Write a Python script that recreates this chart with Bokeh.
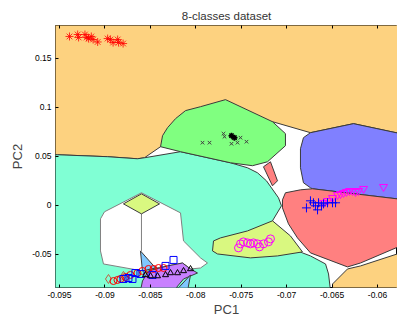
from bokeh.plotting import figure
from bokeh.models import LinearAxis, FixedTicker, NumeralTickFormatter, Range1d
from bokeh.embed import file_html
from bokeh.resources import INLINE

# ---- axis ticks ----
x_ticks = [-0.095, -0.09, -0.085, -0.08, -0.075, -0.07, -0.065, -0.06]
y_ticks = [-0.05, 0, 0.05, 0.1, 0.15]

# ---- decision regions (data coordinates) ----
orange_top_x = [-0.09599, -0.05747, -0.05747, -0.06264, -0.06738, -0.07156, -0.07618, -0.08278, -0.08388, -0.08565, -0.08642, -0.08972, -0.09522, -0.09599]
orange_top_y = [0.1883, 0.1883, 0.0729, 0.0831, 0.0739, 0.0851, 0.0708, 0.0626, 0.0596, 0.0483, 0.0473, 0.0494, 0.0514, 0.0514]

cyan_x = [-0.09599, -0.09522, -0.08972, -0.08642, -0.08565, -0.08168, -0.07618, -0.07431, -0.07321, -0.07222, -0.07090, -0.07057, -0.07156, -0.07288, -0.06826, -0.06738, -0.06572, -0.06539, -0.06517, -0.09599]
cyan_y = [0.0514, 0.0514, 0.0494, 0.0473, 0.0483, 0.0545, 0.0432, 0.0381, 0.0330, 0.0248, 0.0075, -0.0007, -0.0160, -0.0314, -0.0487, -0.0518, -0.0600, -0.0702, -0.0876, -0.0876]

green_x = [-0.08388, -0.08366, -0.08311, -0.08223, -0.08113, -0.07948, -0.07673, -0.07156, -0.07013, -0.07013, -0.07211, -0.07376, -0.07618, -0.08168]
green_y = [0.0596, 0.0708, 0.0790, 0.0882, 0.0964, 0.1004, 0.1076, 0.0851, 0.0729, 0.0606, 0.0442, 0.0402, 0.0432, 0.0545]

blue_x = [-0.06738, -0.06264, -0.05747, -0.05747, -0.06716, -0.06738, -0.06815, -0.06848, -0.06848, -0.06815]
blue_y = [0.0739, 0.0831, 0.0729, 0.0060, 0.0167, 0.0177, 0.0228, 0.0381, 0.0575, 0.0688]

salmon_x = [-0.07046, -0.07013, -0.06848, -0.06716, -0.05747, -0.05747, -0.06187, -0.06330, -0.06738, -0.06881, -0.06980, -0.07046]
salmon_y = [0.0054, 0.0126, 0.0156, 0.0167, 0.0060, -0.0416, -0.0590, -0.0630, -0.0487, -0.0334, -0.0191, -0.0028]

orange_br_x = [-0.06495, -0.06495, -0.06330, -0.06187, -0.05747, -0.05747]
orange_br_y = [-0.0876, -0.0804, -0.0651, -0.0620, -0.0487, -0.0876]

sliver_x = [-0.07255, -0.07178, -0.07101, -0.07156]
sliver_y = [0.0391, 0.0442, 0.0248, 0.0197]

yg_x = [-0.07805, -0.07816, -0.07761, -0.07398, -0.07101, -0.06826, -0.06958, -0.07156, -0.07431, -0.07728]
yg_y = [-0.0365, -0.0467, -0.0498, -0.0538, -0.0518, -0.0477, -0.0314, -0.0160, -0.0263, -0.0334]

white_x = [-0.08598, -0.08168, -0.08135, -0.07948, -0.07871, -0.07948, -0.08058, -0.08146, -0.08311, -0.08443, -0.08587, -0.09016, -0.09049, -0.09049, -0.09005]
white_y = [0.0126, -0.0079, -0.0365, -0.0538, -0.0590, -0.0641, -0.0651, -0.0590, -0.0620, -0.0641, -0.0671, -0.0600, -0.0467, -0.0140, -0.0068]

white_mid_x = [-0.08598, -0.08598]
white_mid_y = [-0.0089, -0.0467]

diamond_x = [-0.08598, -0.08399, -0.08598, -0.08796]
diamond_y = [0.0115, 0.0013, -0.0089, 0.0013]

lblue1_x = [-0.08609, -0.08443, -0.08587]
lblue1_y = [-0.0467, -0.0641, -0.0671]

purple_x = [-0.08609, -0.08587, -0.08521, -0.08311, -0.08146, -0.08058, -0.07981, -0.08135, -0.08245]
purple_y = [-0.0876, -0.0774, -0.0671, -0.0620, -0.0590, -0.0651, -0.0692, -0.0753, -0.0876]

lblue2_x = [-0.08223, -0.08058, -0.08091]
lblue2_y = [-0.0876, -0.0712, -0.0876]

# ---- data points ----
c1_x = [-0.0939, -0.0930, -0.0929, -0.0922, -0.0920, -0.0918, -0.0915, -0.0913, -0.0908, -0.0897, -0.0894, -0.0891, -0.0886, -0.0885, -0.0880]
c1_y = [0.1720, 0.1740, 0.1710, 0.1740, 0.1710, 0.1699, 0.1720, 0.1689, 0.1664, 0.1699, 0.1689, 0.1658, 0.1689, 0.1658, 0.1648]

c2_x = [-0.07926, -0.07849, -0.07695, -0.07684, -0.07607, -0.07585, -0.07563, -0.07541, -0.07607, -0.07508, -0.07442]
c2_y = [0.0637, 0.0637, 0.0729, 0.0698, 0.0708, 0.0688, 0.0678, 0.0637, 0.0626, 0.0688, 0.0647]
c2b_x = [-0.07607, -0.07574]
c2b_y = [0.0708, 0.0688]

c3_x = [-0.06594, -0.06550, -0.06495, -0.06440, -0.06407, -0.06374, -0.06341, -0.06308, -0.06275, -0.06242, -0.06209, -0.06154, -0.05934]
c3_y = [0.0024, 0.0044, 0.0075, 0.0105, 0.0115, 0.0126, 0.0136, 0.0146, 0.0146, 0.0136, 0.0146, 0.0167, 0.0187]

c4_x = [-0.06782, -0.06738, -0.06705, -0.06683, -0.06660, -0.06649, -0.06616, -0.06594, -0.06550, -0.06495, -0.06462]
c4_y = [-0.0028, 0.0044, 0.0024, -0.0007, -0.0048, 0.0024, -0.0007, 0.0013, 0.0024, 0.0024, 0.0024]

c5_x = [-0.07530, -0.07508, -0.07475, -0.07431, -0.07398, -0.07365, -0.07321, -0.07299, -0.07255, -0.07200, -0.07178]
c5_y = [-0.0436, -0.0395, -0.0375, -0.0385, -0.0395, -0.0385, -0.0395, -0.0426, -0.0395, -0.0375, -0.0344]

c6_x = [-0.08906, -0.08862, -0.08829, -0.08774, -0.08719, -0.08642, -0.08587, -0.08520, -0.08465, -0.08410, -0.08355]
c6_y = [-0.0774, -0.0763, -0.0753, -0.0733, -0.0712, -0.0692, -0.0671, -0.0651, -0.0651, -0.0641, -0.0641]

c7_x = [-0.08796, -0.08741, -0.08697, -0.08664, -0.08609, -0.08476, -0.08333, -0.08245]
c7_y = [-0.0753, -0.0743, -0.0753, -0.0692, -0.0702, -0.0712, -0.0620, -0.0559]

c8_x = [-0.08554, -0.08498, -0.08421, -0.08333, -0.08278, -0.08201, -0.08135, -0.08058]
c8_y = [-0.0712, -0.0723, -0.0723, -0.0712, -0.0692, -0.0692, -0.0671, -0.0651]

c9_x = [-0.08961, -0.08796]
c9_y = [-0.0753, -0.0722]

EDGE = "#3a3a3a"

p = figure(width=397, height=320,
           x_range=Range1d(-0.09544, -0.0578), y_range=Range1d(-0.0840, 0.1832),
           output_backend="svg", toolbar_location=None,
           min_border_left=55, min_border_right=0, min_border_top=25, min_border_bottom=33,
           background_fill_color="white", border_fill_color="white",
           title="8-classes dataset")

def region(xs, ys, color, lc=EDGE):
    p.patch(xs, ys, fill_color=color, line_color=lc, line_width=1)

region(orange_top_x, orange_top_y, "#FDD280")
region(orange_br_x, orange_br_y, "#FDD280")
region(cyan_x, cyan_y, "#80FFD4")
region(green_x, green_y, "#80FF80")
region(blue_x, blue_y, "#8080FF")
region(salmon_x, salmon_y, "#FF8080")
region(sliver_x, sliver_y, "#FF8080")
region(yg_x, yg_y, "#D9F880")
region(white_x, white_y, "white", lc="#808080")
p.line(white_mid_x, white_mid_y, line_color="#808080", line_width=1)
region(diamond_x, diamond_y, "#D9F880")
region(lblue1_x, lblue1_y, "#80C8FF")
region(purple_x, purple_y, "#C880FF")
region(lblue2_x, lblue2_y, "#80C8FF")

p.scatter(c1_x, c1_y, marker="asterisk", size=8, line_color="#FF0000", line_width=0.8)
p.scatter(c2_x, c2_y, marker="x", size=5, line_color="#404040", line_width=1)
p.scatter(c2b_x, c2b_y, marker="asterisk", size=6, line_color="black", line_width=1.5)
p.scatter(c3_x, c3_y, marker="inverted_triangle", size=8, line_color="#FF00FF", fill_color=None, line_width=1)
p.scatter(c4_x, c4_y, marker="cross", size=9, line_color="#0000FF", line_width=1)
p.scatter(c5_x, c5_y, marker="circle", size=8, line_color="#FF00FF", fill_color=None, line_width=1)
p.scatter(c9_x, c9_y, marker="diamond", size=9, line_color="#C06040", fill_color=None, line_width=1)
p.scatter(c6_x, c6_y, marker="circle", size=7, line_color="#FF0000", fill_color=None, line_width=1)
p.scatter(c7_x, c7_y, marker="square", size=7, line_color="#0000FF", fill_color=None, line_width=1)
p.scatter(c8_x, c8_y, marker="triangle", size=6, line_color="black", fill_color=None, line_width=1)

p.grid.visible = False
p.outline_line_color = "black"
p.outline_line_width = 1
p.outline_line_alpha = 1

p.title.text_font = "Liberation Sans"
p.title.text_font_size = "11.5px"
p.title.text_font_style = "normal"
p.title.text_color = "#333333"
p.title.align = "center"
p.title.standoff = 8

p.xaxis.ticker = FixedTicker(ticks=x_ticks)
p.yaxis.ticker = FixedTicker(ticks=y_ticks)
p.xaxis.axis_label = "PC1"
p.yaxis.axis_label = "PC2"
for ax in (p.xaxis[0], p.yaxis[0]):
    ax.formatter = NumeralTickFormatter(format="0.[000]")
    ax.major_tick_in = 3
    ax.major_tick_out = 0
    ax.major_tick_line_color = "black"
    ax.minor_tick_line_color = None
    ax.axis_line_color = None
    ax.major_label_text_font = "Liberation Sans"
    ax.major_label_text_font_size = "8.5px"
    ax.major_label_text_color = "black"
    ax.major_label_standoff = 4
    ax.axis_label_text_font = "Liberation Sans"
    ax.axis_label_text_font_size = "13px"
    ax.axis_label_text_font_style = "normal"
    ax.axis_label_text_color = "#444444"
p.xaxis[0].axis_label_standoff = 1
p.yaxis[0].axis_label_standoff = 4

top = LinearAxis(ticker=FixedTicker(ticks=x_ticks), major_tick_in=3, major_tick_out=0,
                 minor_tick_line_color=None, axis_line_color=None,
                 major_label_text_color=None, major_label_text_alpha=0,
                 major_label_text_font_size="1px", major_label_standoff=0)
p.add_layout(top, "above")

open("out.html", "w").write(file_html(p, INLINE))
